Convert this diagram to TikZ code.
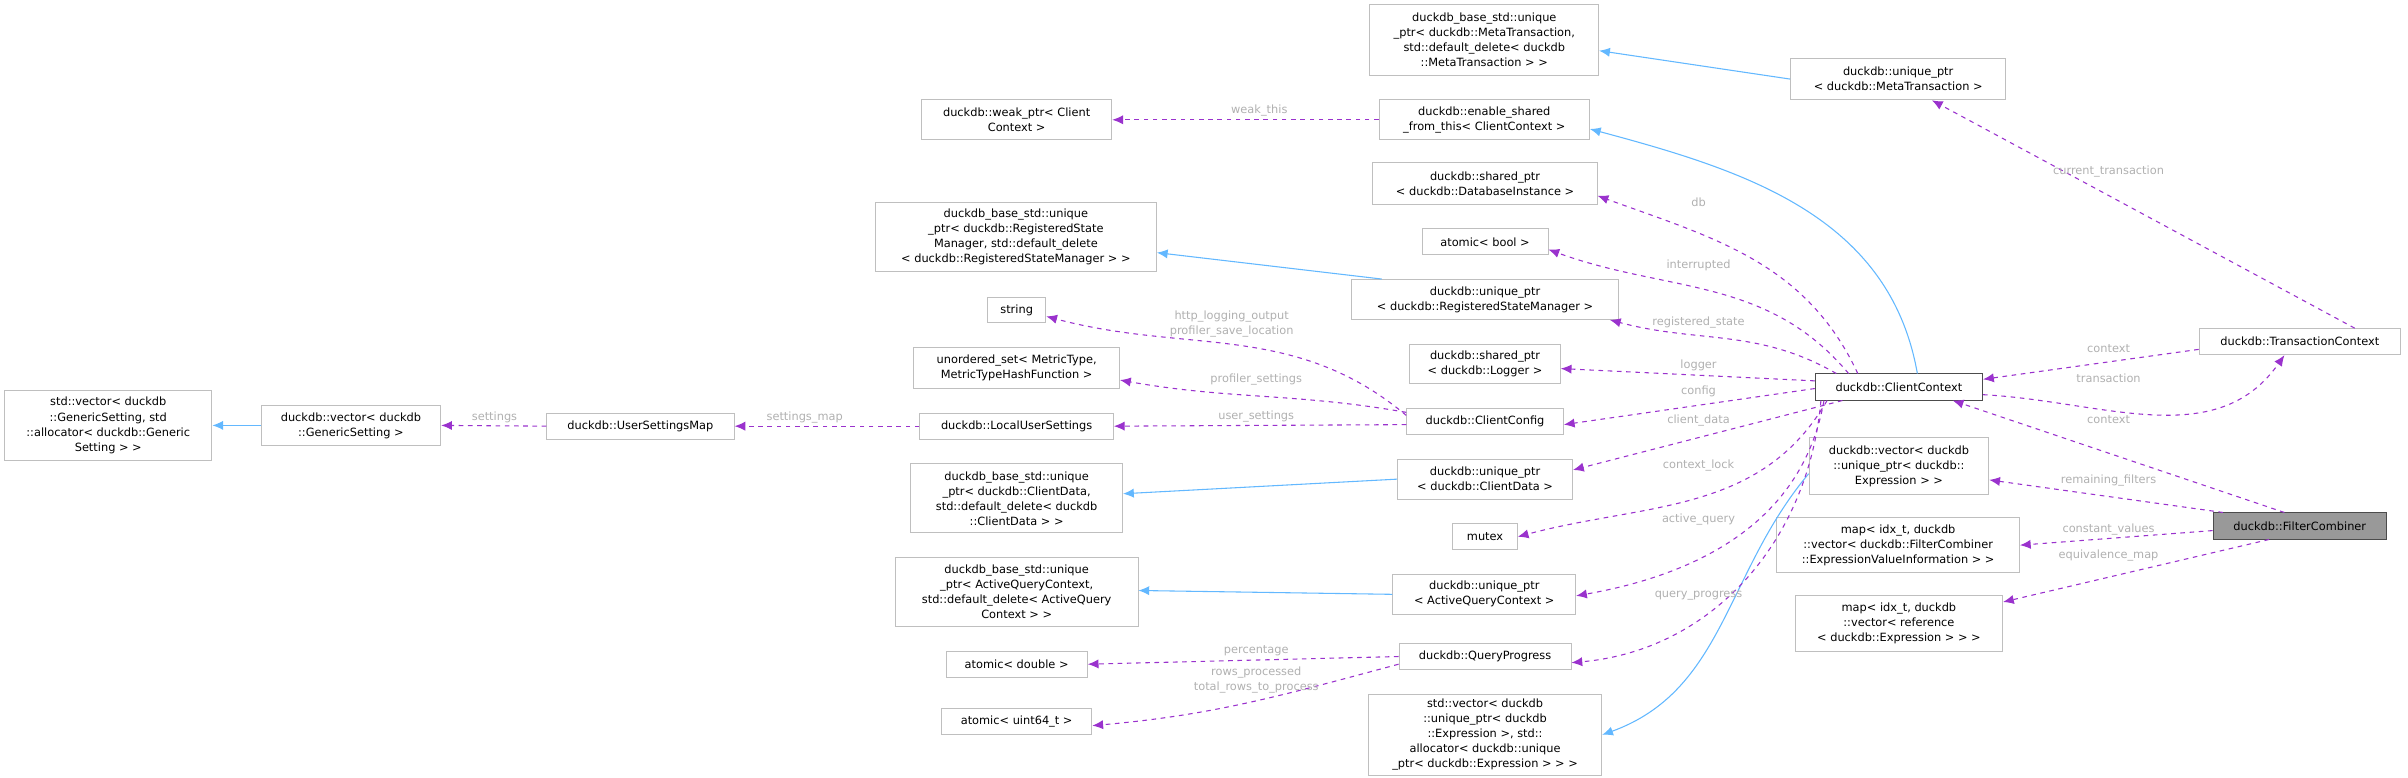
\documentclass[tikz,border=0pt]{standalone}
\usepackage{fontspec}
\setmainfont{DejaVu Sans}
\usetikzlibrary{arrows.meta}
\definecolor{memb}{HTML}{9A32CD}
\definecolor{inh}{HTML}{63B8FF}
\definecolor{lblgray}{HTML}{B0B0B0}
\definecolor{boxgray}{HTML}{BFBFBF}
\tikzset{
  cls/.style={draw=boxgray, fill=white, align=center, inner sep=0pt, line width=0.6pt},
  self/.style={cls, draw=black!70, fill=black!40},
  member/.style={draw=memb, line width=0.7pt, dash pattern=on 3pt off 3pt, -{Latex[length=7pt,width=6pt]}},
  inherit/.style={draw=inh, line width=0.7pt, -{Latex[length=7pt,width=6pt]}},
  lbl/.style={text=lblgray, inner sep=0pt, align=center}
}
\begin{document}
\begin{tikzpicture}[x=1pt,y=1pt,font=\fontsize{7.4}{9.8}\selectfont]
  \useasboundingbox (0,0) rectangle (1568,-506);

  % column 4
  \node[cls, minimum width=131, minimum height=17] (txnctx) at (1497.5,-222.5) {duckdb::TransactionContext};
  \node[self, minimum width=113, minimum height=17] (filter) at (1497.5,-342.5) {duckdb::FilterCombiner};

  % column 3
  \node[cls, minimum width=140, minimum height=27] (metaptr) at (1236,-51.5) {duckdb::unique\_ptr\\< duckdb::MetaTransaction >};
  \node[cls, draw=black!70, minimum width=109, minimum height=17] (clientctx) at (1236.5,-252) {duckdb::ClientContext};
  \node[cls, minimum width=117, minimum height=37] (evec) at (1236.5,-303.5) {duckdb::vector< duckdb\\::unique\_ptr< duckdb::\\Expression > >};
  \node[cls, minimum width=158, minimum height=36] (cvmap) at (1236,-355) {map< idx\_t, duckdb\\::vector< duckdb::FilterCombiner\\::ExpressionValueInformation > >};
  \node[cls, minimum width=135, minimum height=36] (ermap) at (1236.5,-406) {map< idx\_t, duckdb\\::vector< reference\\< duckdb::Expression > > >};

  % column 2
  \node[cls, minimum width=149, minimum height=46] (metabase) at (966.5,-26) {duckdb\_base\_std::unique\\\_ptr< duckdb::MetaTransaction,\\std::default\_delete< duckdb\\::MetaTransaction > >};
  \node[cls, minimum width=137, minimum height=26] (enable) at (966.5,-78) {duckdb::enable\_shared\\\_from\_this< ClientContext >};
  \node[cls, minimum width=146, minimum height=27] (dbinst) at (967,-119.5) {duckdb::shared\_ptr\\< duckdb::DatabaseInstance >};
  \node[cls, minimum width=82, minimum height=17] (abool) at (967,-157.5) {atomic< bool >};
  \node[cls, minimum width=174, minimum height=26] (rsmptr) at (967,-195) {duckdb::unique\_ptr\\< duckdb::RegisteredStateManager >};
  \node[cls, minimum width=98, minimum height=26] (logger) at (967,-237) {duckdb::shared\_ptr\\< duckdb::Logger >};
  \node[cls, minimum width=102, minimum height=17] (clientcfg) at (967,-274.5) {duckdb::ClientConfig};
  \node[cls, minimum width=114, minimum height=26] (cdataptr) at (967,-312) {duckdb::unique\_ptr\\< duckdb::ClientData >};
  \node[cls, minimum width=42, minimum height=17] (mutex) at (967,-349.5) {mutex};
  \node[cls, minimum width=119, minimum height=26] (aqptr) at (966.5,-387) {duckdb::unique\_ptr\\< ActiveQueryContext >};
  \node[cls, minimum width=112, minimum height=17] (qp) at (967,-427.5) {duckdb::QueryProgress};
  \node[cls, minimum width=152, minimum height=53] (stdvecexpr) at (967,-478.5) {std::vector< duckdb\\::unique\_ptr< duckdb\\::Expression >, std::\\allocator< duckdb::unique\\\_ptr< duckdb::Expression > > >};

  % column 1
  \node[cls, minimum width=124, minimum height=26] (weak) at (662,-78) {duckdb::weak\_ptr< Client\\Context >};
  \node[cls, minimum width=183, minimum height=45] (rsmbase) at (661.5,-154.5) {duckdb\_base\_std::unique\\\_ptr< duckdb::RegisteredState\\Manager, std::default\_delete\\< duckdb::RegisteredStateManager > >};
  \node[cls, minimum width=38, minimum height=16] (string) at (662,-202) {string};
  \node[cls, minimum width=134, minimum height=27] (uset) at (662,-239.5) {unordered\_set< MetricType,\\MetricTypeHashFunction >};
  \node[cls, minimum width=126, minimum height=17] (lus) at (662,-277.5) {duckdb::LocalUserSettings};
  \node[cls, minimum width=138, minimum height=45] (cdatabase) at (662,-324.5) {duckdb\_base\_std::unique\\\_ptr< duckdb::ClientData,\\std::default\_delete< duckdb\\::ClientData > >};
  \node[cls, minimum width=158, minimum height=45] (aqbase) at (662,-385.5) {duckdb\_base\_std::unique\\\_ptr< ActiveQueryContext,\\std::default\_delete< ActiveQuery\\Context > >};
  \node[cls, minimum width=92, minimum height=17] (adouble) at (662,-432.5) {atomic< double >};
  \node[cls, minimum width=98, minimum height=17] (auint) at (662,-469.5) {atomic< uint64\_t >};

  % left chain
  \node[cls, minimum width=122, minimum height=17] (usmap) at (417,-277.5) {duckdb::UserSettingsMap};
  \node[cls, minimum width=117, minimum height=26] (gvec) at (228.5,-277) {duckdb::vector< duckdb\\::GenericSetting >};
  \node[cls, minimum width=135, minimum height=46] (svec) at (70.5,-277) {std::vector< duckdb\\::GenericSetting, std\\::allocator< duckdb::Generic\\Setting > >};

  % inheritance
  \draw[inherit] (metaptr.west) -- ([yshift=-7]metabase.east);
  \draw[inherit] ([xshift=12]clientctx.north) to[out=100,in=-15] ([yshift=-6]enable.east);
  \draw[inherit] ([xshift=20]rsmptr.north west) -- ([yshift=-10]rsmbase.east);
  \draw[inherit] (cdataptr.west) -- ([yshift=3]cdatabase.east);
  \draw[inherit] (aqptr.west) -- ([yshift=1]aqbase.east);
  \draw[inherit] (gvec.west) -- (svec.east);
  \draw[inherit] ([yshift=-5]evec.west) to[out=-130,in=20] ([yshift=0]stdvecexpr.east);

  % members
  \draw[member] (enable.west) -- (weak.east);
  \draw[member] ([xshift=28]clientctx.north west) to[out=115,in=-20] ([yshift=-8]dbinst.east);
  \draw[member] ([xshift=22]clientctx.north west) to[out=130,in=-20] ([yshift=-5]abool.east);
  \draw[member] ([xshift=14]clientctx.north west) to[out=150,in=-15] ([xshift=-6]rsmptr.south east);
  \draw[member] ([yshift=4]clientctx.west) -- ([yshift=-3]logger.east);
  \draw[member] ([yshift=-1]clientctx.west) -- ([yshift=-2]clientcfg.east);
  \draw[member] ([xshift=18]clientctx.south west) -- ([yshift=6]cdataptr.east);
  \draw[member] ([xshift=8]clientctx.south west) to[out=-120,in=15] (mutex.east);
  \draw[member] ([xshift=6]clientctx.south west) to[out=-100,in=10] ([yshift=-1]aqptr.east);
  \draw[member] ([xshift=4]clientctx.south west) to[out=-95,in=5] ([yshift=-4]qp.east);
  \draw[member] ([yshift=-5]clientctx.east) to[out=-3,in=-125] ([xshift=-10]txnctx.south);
  \draw[member] ([yshift=-5]txnctx.west) -- ([yshift=5]clientctx.east);
  \draw[member] ([xshift=-30]txnctx.north east) -- ([xshift=22]metaptr.south);
  \draw[member] ([xshift=-10]filter.north) -- ([xshift=35]clientctx.south);
  \draw[member] ([xshift=-50]filter.north) -- ([yshift=-9]evec.east);
  \draw[member] ([yshift=-3]filter.west) -- (cvmap.east);
  \draw[member] ([xshift=-20]filter.south) -- ([yshift=14]ermap.east);
  \draw[member] ([yshift=4]clientcfg.west) to[out=140,in=-15] ([yshift=-4]string.east);
  \draw[member] ([yshift=6]clientcfg.west) to[out=170,in=-10] ([yshift=-8]uset.east);
  \draw[member] ([yshift=-2]clientcfg.west) -- (lus.east);
  \draw[member] (lus.west) -- (usmap.east);
  \draw[member] (usmap.west) -- (gvec.east);
  \draw[member] (qp.west) -- (adouble.east);
  \draw[member] ([yshift=-5]qp.west) to[out=195,in=5] ([yshift=-3]auint.east);

  % labels
  \node[lbl] (lweak) at (820,-72) {weak\_this};
  \node[lbl] (ldb) at (1106,-132) {db};
  \node[lbl] (lint) at (1106,-173) {interrupted};
  \node[lbl] (lreg) at (1106,-210) {registered\_state};
  \node[lbl] (llog) at (1106,-238) {logger};
  \node[lbl] (lcfg) at (1106,-255) {config};
  \node[lbl] (lcdata) at (1106,-274) {client\_data};
  \node[lbl] (llock) at (1106,-303) {context\_lock};
  \node[lbl] (laq) at (1106,-338) {active\_query};
  \node[lbl] (lqp) at (1106,-388) {query\_progress};
  \node[lbl] (lcur) at (1373,-112) {current\_transaction};
  \node[lbl] (lctx) at (1373,-227) {context};
  \node[lbl] (ltxn) at (1373,-246) {transaction};
  \node[lbl] (lctx2) at (1373,-273) {context};
  \node[lbl] (lrem) at (1373,-313) {remaining\_filters};
  \node[lbl] (lcv) at (1373,-345) {constant\_values};
  \node[lbl] (leq) at (1373,-362) {equivalence\_map};
  \node[lbl] (lhttp) at (802,-211) {http\_logging\_output\\profiler\_save\_location};
  \node[lbl] (lprof) at (818,-247) {profiler\_settings};
  \node[lbl] (luser) at (818,-271) {user\_settings};
  \node[lbl] (lsmap) at (524,-272) {settings\_map};
  \node[lbl] (lset) at (322,-272) {settings};
  \node[lbl] (lpct) at (818,-424) {percentage};
  \node[lbl] (lrows) at (818,-443) {rows\_processed\\total\_rows\_to\_process};
\end{tikzpicture}
\end{document}
